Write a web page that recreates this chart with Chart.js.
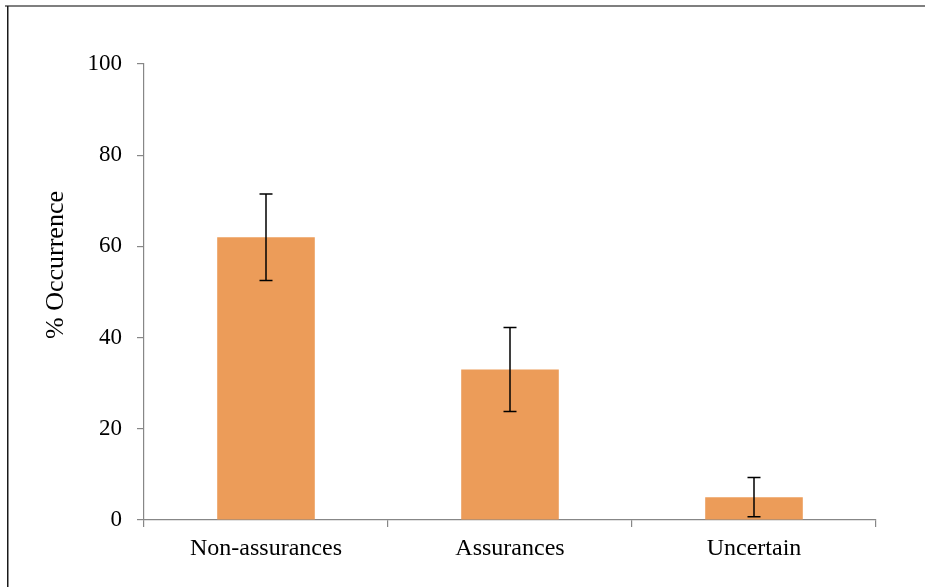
<!DOCTYPE html>
<html>
<head>
<meta charset="utf-8">
<script src="https://cdn.jsdelivr.net/npm/chart.js@4.4.0/dist/chart.umd.min.js"></script>
<style>
  html, body { margin: 0; padding: 0; background: #ffffff; }
  #c { display: block; }
</style>
</head>
<body>
<canvas id="c" width="925" height="587"></canvas>
<script>
const categories = ['Non-assurances', 'Assurances', 'Uncertain'];
const values = [62, 33, 5];
const errors = [9.5, 9.2, 4.3];
const yTicks = [0, 20, 40, 60, 80, 100];
const yTitle = '% Occurrence';

const FONT = '"Liberation Serif", "Times New Roman", Times, serif';
const AXIS = '#878787';

const framePlugin = {
  id: 'frame',
  beforeDraw(chart) {
    const ctx = chart.ctx;
    ctx.save();
    ctx.fillStyle = '#ffffff';
    ctx.fillRect(0, 0, chart.width, chart.height);
    ctx.fillStyle = '#7f7f7f';
    ctx.fillRect(5, 5, chart.width - 5, 2);
    ctx.fillStyle = '#1a1a1a';
    ctx.fillRect(7, 6, 1.5, chart.height - 6);
    ctx.restore();
  }
};

const errorPlugin = {
  id: 'errorBars',
  afterDatasetsDraw(chart) {
    const ctx = chart.ctx;
    const meta = chart.getDatasetMeta(0);
    const y = chart.scales.y;
    ctx.save();
    ctx.strokeStyle = '#000000';
    ctx.lineWidth = 1.5;
    meta.data.forEach((bar, i) => {
      const x = bar.x;
      const top = y.getPixelForValue(values[i] + errors[i]);
      const bot = y.getPixelForValue(values[i] - errors[i]);
      const cap = 6.5;
      ctx.beginPath();
      ctx.moveTo(x, top); ctx.lineTo(x, bot);
      ctx.moveTo(x - cap, top); ctx.lineTo(x + cap, top);
      ctx.moveTo(x - cap, bot); ctx.lineTo(x + cap, bot);
      ctx.stroke();
    });
    ctx.restore();
  }
};

const titlePlugin = {
  id: 'yTitle',
  afterDraw(chart) {
    const ctx = chart.ctx;
    const a = chart.chartArea;
    ctx.save();
    ctx.translate(56, a.top + 201);
    ctx.rotate(-Math.PI / 2);
    ctx.font = '26px ' + FONT;
    ctx.fillStyle = '#000000';
    ctx.textAlign = 'center';
    ctx.textBaseline = 'middle';
    ctx.fillText(yTitle, 0, 0);
    ctx.restore();
  }
};

new Chart(document.getElementById('c'), {
  type: 'bar',
  data: {
    labels: categories,
    datasets: [{
      data: values,
      backgroundColor: 'rgb(236,156,89)',
      borderWidth: 0,
      barPercentage: 0.8,
      categoryPercentage: 0.5
    }]
  },
  options: {
    responsive: false,
    animation: false,
    devicePixelRatio: 1,
    layout: { padding: { top: 64, right: 49, left: 0, bottom: 0 } },
    plugins: { legend: { display: false }, tooltip: { enabled: false } },
    scales: {
      x: {
        grid: { display: true, offset: true, drawOnChartArea: false, drawTicks: true, tickLength: 7, color: AXIS, lineWidth: 1.2 },
        border: { display: true, color: AXIS, width: 1.2 },
        ticks: { color: '#000000', font: { family: FONT, size: 24 }, padding: 7, maxRotation: 0 },
        afterFit(scale) { scale.height = 67; }
      },
      y: {
        min: 0, max: 100,
        afterBuildTicks(scale) { scale.ticks = yTicks.map(v => ({ value: v })); },
        grid: { display: true, drawOnChartArea: false, drawTicks: true, tickLength: 7, color: AXIS, lineWidth: 1.2 },
        border: { display: true, color: AXIS, width: 1.2 },
        ticks: { color: '#000000', font: { family: FONT, size: 23 }, padding: 15 },
        afterFit(scale) { scale.width = 144; }
      }
    }
  },
  plugins: [framePlugin, errorPlugin, titlePlugin]
});
</script>
</body>
</html>
